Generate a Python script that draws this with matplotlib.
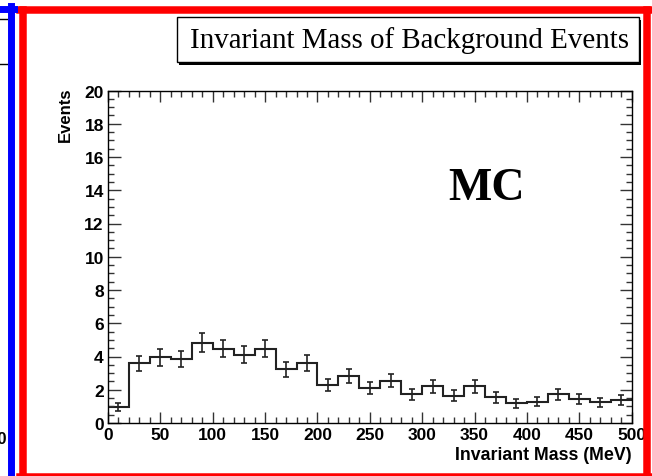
import matplotlib
matplotlib.use("Agg")
import matplotlib.pyplot as plt
from matplotlib.patches import Rectangle
from matplotlib.lines import Line2D
from matplotlib.ticker import MultipleLocator
import numpy as np

# histogram of background events, 20 MeV bins
bin_edges = np.arange(0, 520, 20)
counts = [0.94, 3.58, 3.94, 3.84, 4.84, 4.48, 4.12, 4.48, 3.24, 3.60,
          2.28, 2.80, 2.08, 2.54, 1.74, 2.20, 1.64, 2.20, 1.54, 1.20,
          1.28, 1.74, 1.44, 1.24, 1.40]
errors = [0.24, 0.47, 0.50, 0.49, 0.55, 0.53, 0.51, 0.53, 0.45, 0.47,
          0.38, 0.42, 0.36, 0.40, 0.33, 0.37, 0.32, 0.37, 0.31, 0.27,
          0.28, 0.33, 0.30, 0.28, 0.30]

title = "Invariant Mass of Background Events"
xlabel = "Invariant Mass (MeV)"
ylabel = "Events"

W, H = 652, 477


def fx(x):
    return x / W


def fy(y):
    return 1 - y / H


fig = plt.figure(figsize=(W / 100, H / 100), dpi=100)
fig.patch.set_facecolor("white")

ax = fig.add_axes([fx(108), fy(424), fx(631.7) - fx(108), fy(91.5) - fy(424)])

centers = (bin_edges[:-1] + bin_edges[1:]) / 2
ax.stairs(counts, bin_edges, color="#222222", lw=1.5, baseline=None)
ax.errorbar(centers, counts, yerr=errors, fmt="none", ecolor="#222222",
            elinewidth=1.2, capsize=2.5, capthick=1.2)

ax.set_xlim(0, 500)
ax.set_ylim(0, 20)
ax.xaxis.set_major_locator(MultipleLocator(50))
ax.xaxis.set_minor_locator(MultipleLocator(10))
ax.yaxis.set_major_locator(MultipleLocator(2))
ax.yaxis.set_minor_locator(MultipleLocator(0.5))
ax.tick_params(which="both", direction="in", top=True, right=True,
               color="#333333", width=1)
ax.tick_params(axis="x", which="major", length=8, pad=3)
ax.tick_params(axis="x", which="minor", length=4)
ax.tick_params(axis="y", which="major", length=9, pad=3)
ax.tick_params(axis="y", which="minor", length=4.5)
for lab in ax.get_xticklabels() + ax.get_yticklabels():
    lab.set_fontfamily("Liberation Sans")
    lab.set_fontweight("bold")
    lab.set_fontsize(12.5)
for s in ax.spines.values():
    s.set_linewidth(1)

fig.text(fx(65), fy(88), ylabel, rotation=90, ha="center", va="top",
         fontfamily="Liberation Sans", fontweight="bold", fontsize=12)
fig.text(fx(631.7), fy(460), xlabel, ha="right", va="baseline",
         fontfamily="Liberation Sans", fontweight="bold", fontsize=12.8)
fig.text(fx(486.5), fy(200), "MC", ha="center", va="baseline",
         fontfamily="Liberation Serif", fontweight="bold", fontsize=33)

# title box with shadow
fig.add_artist(Rectangle((fx(179), fy(65.5)), fx(641) - fx(179), fy(20.5) - fy(65.5),
                         transform=fig.transFigure, facecolor="black",
                         edgecolor="none", zorder=5))
fig.add_artist(Rectangle((fx(177), fy(63)), fx(639) - fx(177), fy(18) - fy(63),
                         transform=fig.transFigure, facecolor="white",
                         edgecolor="black", lw=1, zorder=6))
fig.text(fx(410), fy(41), title, ha="center", va="center", zorder=7,
         fontfamily="Liberation Serif", fontsize=20.9)

# pad borders: red for this pad, blue for neighbour on the left
red = "#ff0000"
blue = "#0000ff"
bw = 5.4
fig.add_artist(Line2D([fx(23), fx(23)], [fy(10.5), fy(490)], color=red, lw=bw,
                      transform=fig.transFigure, zorder=10))
fig.add_artist(Line2D([fx(647), fx(647)], [fy(10.5), fy(490)], color=red, lw=bw,
                      transform=fig.transFigure, zorder=10))
fig.add_artist(Line2D([fx(19.5), fx(650.5)], [fy(10.5), fy(10.5)], color=red, lw=bw,
                      transform=fig.transFigure, zorder=10))
fig.add_artist(Line2D([fx(19.5), fx(650.5)], [fy(477.5), fy(477.5)], color=red, lw=bw,
                      transform=fig.transFigure, zorder=10))
fig.add_artist(Line2D([fx(10.5), fx(10.5)], [fy(7), fy(490)], color=blue, lw=5,
                      transform=fig.transFigure, zorder=10))
fig.add_artist(Line2D([fx(-5), fx(14)], [fy(10), fy(10)], color=blue, lw=5,
                      transform=fig.transFigure, zorder=10))
# pieces of the neighbouring pad
fig.add_artist(Line2D([fx(0), fx(7)], [fy(20), fy(20)], color="black", lw=1,
                      transform=fig.transFigure))
fig.add_artist(Line2D([fx(0), fx(7)], [fy(65), fy(65)], color="black", lw=1,
                      transform=fig.transFigure))
fig.text(fx(7), fy(440), "500", ha="right", va="center",
         fontfamily="Liberation Sans", fontweight="bold", fontsize=12)

fig.savefig("out.png", dpi=100)
